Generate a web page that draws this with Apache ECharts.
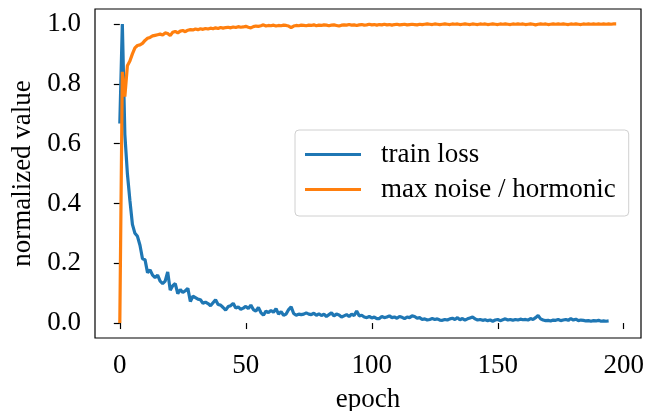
<!DOCTYPE html>
<html>
<head>
<meta charset="utf-8">
<script src="https://cdn.jsdelivr.net/npm/echarts@6/dist/echarts.min.js"></script>
<style>
  html, body { margin: 0; padding: 0; background: #fff; }
  #chart { width: 663px; height: 411px; }
</style>
</head>
<body>
<div id="chart"></div>
<script>
// train loss, one value per epoch (0..194)
var trainLoss = [
  0.667, 1.000, 0.630, 0.500, 0.410, 0.330, 0.300, 0.290, 0.260, 0.215,
  0.212, 0.168, 0.178, 0.160, 0.152, 0.160, 0.140, 0.132, 0.140, 0.171,
  0.110, 0.125, 0.132, 0.098, 0.112, 0.102, 0.108, 0.116, 0.072, 0.090,
  0.085, 0.080, 0.078, 0.066, 0.070, 0.065, 0.058, 0.068, 0.078, 0.062,
  0.060, 0.052, 0.043, 0.055, 0.058, 0.066, 0.050, 0.054, 0.046, 0.050,
  0.056, 0.048, 0.060, 0.045, 0.040, 0.052, 0.035, 0.026, 0.040, 0.035,
  0.042, 0.036, 0.048, 0.030, 0.038, 0.026, 0.030, 0.045, 0.054, 0.032,
  0.026, 0.030, 0.028, 0.030, 0.034, 0.030, 0.028, 0.033, 0.026, 0.031,
  0.025, 0.030, 0.022, 0.028, 0.034, 0.024, 0.030, 0.027, 0.020, 0.024,
  0.028, 0.022, 0.030, 0.025, 0.040, 0.024, 0.026, 0.020, 0.018, 0.022,
  0.017, 0.020, 0.015, 0.015, 0.022, 0.018, 0.020, 0.024, 0.018, 0.020,
  0.016, 0.022, 0.019, 0.015, 0.020, 0.018, 0.024, 0.022, 0.016, 0.018,
  0.012, 0.014, 0.010, 0.012, 0.015, 0.012, 0.014, 0.010, 0.009, 0.012,
  0.010, 0.014, 0.016, 0.012, 0.018, 0.011, 0.015, 0.010, 0.014, 0.017,
  0.020, 0.014, 0.010, 0.012, 0.009, 0.011, 0.008, 0.010, 0.006, 0.010,
  0.012, 0.008, 0.011, 0.014, 0.010, 0.012, 0.009, 0.012, 0.010, 0.013,
  0.011, 0.012, 0.010, 0.015, 0.012, 0.018, 0.025, 0.014, 0.010, 0.008,
  0.009, 0.007, 0.010, 0.009, 0.012, 0.008, 0.010, 0.012, 0.009, 0.015,
  0.010, 0.013, 0.008, 0.010, 0.009, 0.007, 0.008, 0.006, 0.008, 0.007,
  0.009, 0.006, 0.007, 0.006, 0.007
];

// max noise / hormonic, one value per epoch (0..197)
var noiseRatio = [
  0.000, 0.840, 0.757, 0.860, 0.876, 0.900, 0.920, 0.928, 0.930, 0.935,
  0.945, 0.952, 0.955, 0.960, 0.962, 0.964, 0.966, 0.963, 0.970, 0.968,
  0.961, 0.972, 0.975, 0.970, 0.976, 0.978, 0.974, 0.979, 0.981, 0.980,
  0.983, 0.981, 0.984, 0.982, 0.985, 0.983, 0.986, 0.984, 0.987, 0.985,
  0.988, 0.986, 0.988, 0.989, 0.987, 0.990, 0.988, 0.991, 0.989, 0.990,
  0.992, 0.989, 0.987, 0.991, 0.993, 0.992, 0.994, 0.997, 0.993, 0.995,
  0.994, 0.996, 0.993, 0.995, 0.994, 0.996, 0.995, 0.993, 0.988, 0.993,
  0.995, 0.994, 0.996, 0.995, 0.994, 0.996, 0.995, 0.997, 0.994, 0.996,
  0.995, 0.997, 0.996, 0.994, 0.996, 0.997, 0.995, 0.993, 0.996, 0.997,
  0.996, 0.998, 0.996, 0.997, 0.995, 0.997, 0.998, 0.996, 0.997, 0.999,
  0.997, 0.998, 0.996, 0.998, 0.997, 0.999, 0.997, 0.998, 0.996, 0.998,
  0.999, 0.997, 0.998, 0.999, 0.997, 0.998, 0.999, 0.998, 0.997, 0.999,
  0.998, 0.999, 1.000, 0.999, 0.998, 1.000, 0.999, 0.998, 0.999, 1.000,
  0.999, 0.998, 1.000, 0.999, 1.000, 0.998, 0.999, 1.000, 0.999, 0.998,
  1.000, 0.999, 0.998, 1.000, 0.999, 1.000, 0.998, 0.999, 1.000, 0.999,
  0.998, 1.000, 0.999, 1.000, 0.999, 0.998, 1.000, 0.999, 1.000, 0.999,
  1.000, 0.998, 0.999, 1.000, 0.999, 0.997, 0.999, 1.000, 0.999, 1.000,
  0.998, 0.999, 1.000, 0.999, 1.000, 0.999, 1.000, 0.999, 0.998, 1.000,
  0.999, 1.000, 0.999, 0.998, 1.000, 0.999, 1.000, 0.999, 1.000, 0.999,
  1.000, 0.999, 1.000, 0.999, 1.000, 0.999, 1.000, 1.000
];

var seriesNames = ["train loss", "max noise / hormonic"];
var xTicks = [0, 50, 100, 150, 200];
var yTicks = [0, 0.2, 0.4, 0.6, 0.8, 1.0];

var serif = "Liberation Serif";
var fs = 27;

function toPairs(arr) {
    return arr.map(function (v, i) { return [i, v]; });
}

var myChart = echarts.init(document.getElementById("chart"), null, {renderer: "canvas"});
myChart.setOption({
    animation: false,
    backgroundColor: "#fff",
    grid: {
        left: 95, right: 22, top: 9, bottom: 73,
        show: true, borderColor: "#000", borderWidth: 1.2,
        containLabel: false,
        outerBoundsMode: "none"
    },
    xAxis: {
        type: "value",
        min: -9.85, max: 206.85,
        name: "epoch",
        nameLocation: "middle",
        nameGap: 48,
        nameTextStyle: {fontFamily: serif, fontSize: fs, color: "#000"},
        splitLine: {show: false},
        axisLine: {show: false},
        axisTick: {show: true, inside: false, length: 6, customValues: xTicks,
                   lineStyle: {color: "#000", width: 1.2}},
        axisLabel: {customValues: xTicks, margin: 14, fontFamily: serif, fontSize: fs, color: "#000"}
    },
    yAxis: {
        type: "value",
        min: -0.05, max: 1.05,
        name: "normalized value",
        nameLocation: "middle",
        nameGap: 56,
        nameTextStyle: {fontFamily: serif, fontSize: fs, color: "#000"},
        splitLine: {show: false},
        axisLine: {show: false},
        axisTick: {show: true, inside: false, length: 6, customValues: yTicks,
                   lineStyle: {color: "#000", width: 1.2}},
        axisLabel: {
            customValues: yTicks, margin: 14, fontFamily: serif, fontSize: fs, color: "#000",
            formatter: function (v) { return v.toFixed(1); }
        }
    },
    legend: {
        orient: "vertical",
        left: 295, top: 130,
        padding: [11, 13, 13, 10],
        itemWidth: 56, itemHeight: 3,
        itemGap: 8,
        icon: "rect",
        backgroundColor: "rgba(255,255,255,0.8)",
        borderColor: "#d0d0d0", borderWidth: 1, borderRadius: 4,
        textStyle: {fontFamily: serif, fontSize: fs, color: "#000", padding: [0, 0, 0, 15]},
        data: seriesNames
    },
    series: [
        {
            name: seriesNames[0], type: "line", data: toPairs(trainLoss),
            showSymbol: false, symbol: "none",
            lineStyle: {color: "#1f77b4", width: 3.2},
            itemStyle: {color: "#1f77b4"}
        },
        {
            name: seriesNames[1], type: "line", data: toPairs(noiseRatio),
            showSymbol: false, symbol: "none",
            lineStyle: {color: "#ff7f0e", width: 3.2},
            itemStyle: {color: "#ff7f0e"}
        }
    ]
});
</script>
</body>
</html>
